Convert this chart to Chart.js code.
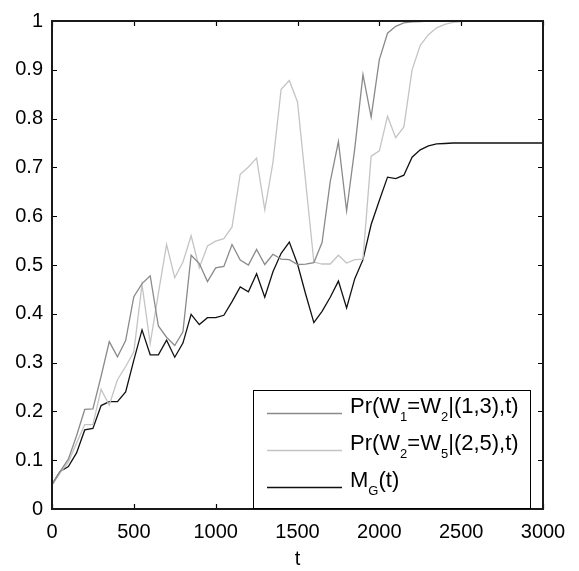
<!DOCTYPE html>
<html>
<head>
<meta charset="utf-8">
<script src="https://cdn.jsdelivr.net/npm/chart.js@4/dist/chart.umd.min.js"></script>
<style>
  html, body { margin: 0; padding: 0; background: #fff; }
  #wrap { width: 579px; height: 571px; }
</style>
</head>
<body>
<div id="wrap"><canvas id="chart" width="579" height="571"></canvas></div>
<script>
"use strict";

// Час t (крок 50)
const tValues = [
    0, 50, 100, 150, 200, 250, 300, 350, 400, 450,
    500, 550, 600, 650, 700, 750, 800, 850, 900, 950,
    1000, 1050, 1100, 1150, 1200, 1250, 1300, 1350, 1400, 1450,
    1500, 1550, 1600, 1650, 1700, 1750, 1800, 1850, 1900, 1950,
    2000, 2050, 2100, 2150, 2200, 2250, 2300, 2350, 2400, 2450,
    2500, 2550, 2600, 2650, 2700, 2750, 2800, 2850, 2900, 2950, 3000
];

// Pr(W1=W2|(1,3),t)
const pr13 = [
    0.05, 0.077, 0.102, 0.15, 0.204, 0.205, 0.272, 0.343, 0.312, 0.345,
    0.435, 0.462, 0.478, 0.375, 0.352, 0.335, 0.363, 0.52, 0.503, 0.466,
    0.494, 0.497, 0.542, 0.51, 0.5, 0.532, 0.501, 0.522, 0.512, 0.511,
    0.501, 0.502, 0.505, 0.546, 0.671, 0.753, 0.611, 0.739, 0.89, 0.803,
    0.921, 0.975, 0.989, 0.996, 0.998, 0.999, 1, 1, 1, 1,
    1, 1, 1, 1, 1, 1, 1, 1, 1, 1, 1
];

// Pr(W2=W5|(2,5),t)
const pr25 = [
    0.05, 0.074, 0.096, 0.135, 0.173, 0.173, 0.245, 0.213, 0.265, 0.292,
    0.322, 0.46, 0.339, 0.442, 0.542, 0.474, 0.506, 0.56, 0.494, 0.539,
    0.549, 0.554, 0.578, 0.686, 0.701, 0.719, 0.613, 0.71, 0.86, 0.878,
    0.834, 0.67, 0.506, 0.502, 0.502, 0.52, 0.504, 0.511, 0.512, 0.723,
    0.734, 0.805, 0.761, 0.783, 0.9, 0.95, 0.972, 0.986, 0.993, 0.997,
    0.999, 1, 1, 1, 1, 1, 1, 1, 1, 1, 1
];

// M_G(t)
const mg = [
    0.05, 0.077, 0.087, 0.115, 0.162, 0.165, 0.212, 0.22, 0.22, 0.24,
    0.305, 0.367, 0.316, 0.316, 0.346, 0.311, 0.34, 0.399, 0.378, 0.392,
    0.392, 0.397, 0.425, 0.455, 0.445, 0.482, 0.434, 0.486, 0.524, 0.547,
    0.502, 0.44, 0.382, 0.405, 0.434, 0.467, 0.412, 0.472, 0.511, 0.583,
    0.632, 0.68, 0.677, 0.684, 0.721, 0.736, 0.744, 0.748, 0.749, 0.75,
    0.75, 0.75, 0.75, 0.75, 0.75, 0.75, 0.75, 0.75, 0.75, 0.75, 0.75
];

// Підписи легенди: частини тексту, sub = нижній індекс
const legendLabels = [
    [{ t: 'Pr(W' }, { t: '1', sub: true }, { t: '=W' }, { t: '2', sub: true }, { t: '|(1,3),t)' }],
    [{ t: 'Pr(W' }, { t: '2', sub: true }, { t: '=W' }, { t: '5', sub: true }, { t: '|(2,5),t)' }],
    [{ t: 'M' }, { t: 'G', sub: true }, { t: '(t)' }]
];
const xTitle = 't';

const FONT = '"Liberation Sans", Arial, Helvetica, sans-serif';
const colors = ['#8a8a8a', '#c4c4c4', '#111111'];

function toPoints(values) {
    return tValues.map((t, i) => ({ x: t, y: values[i] }));
}

// Рамка та внутрішні засічки як у MATLAB
const boxPlugin = {
    id: 'matlabBox',
    afterDraw(chart) {
        const { ctx, chartArea: a, scales } = chart;
        const len = 5;
        ctx.save();
        ctx.strokeStyle = '#000';
        ctx.lineWidth = 1.2;
        scales.x.ticks.forEach(tk => {
            const px = Math.round(scales.x.getPixelForValue(tk.value)) + 0.5;
            ctx.beginPath();
            ctx.moveTo(px, a.bottom); ctx.lineTo(px, a.bottom - len);
            ctx.moveTo(px, a.top); ctx.lineTo(px, a.top + len);
            ctx.stroke();
        });
        scales.y.ticks.forEach(tk => {
            const py = Math.round(scales.y.getPixelForValue(tk.value)) + 0.5;
            ctx.beginPath();
            ctx.moveTo(a.left, py); ctx.lineTo(a.left + len, py);
            ctx.moveTo(a.right, py); ctx.lineTo(a.right - len, py);
            ctx.stroke();
        });
        ctx.strokeStyle = '#1a1a1a';
        ctx.lineWidth = 2;
        ctx.strokeRect(a.left, a.top, a.right - a.left, a.bottom - a.top);
        ctx.restore();
    }
};

// Власна легенда з нижніми індексами
const legendPlugin = {
    id: 'subLegend',
    afterDraw(chart) {
        const { ctx, chartArea: a } = chart;
        const bx = a.left + 201, by = a.top + 369, bw = 277, bh = 118;
        ctx.save();
        ctx.fillStyle = '#fff';
        ctx.fillRect(bx, by, bw, bh);
        ctx.strokeStyle = '#000';
        ctx.lineWidth = 1;
        ctx.strokeRect(bx + 0.5, by + 0.5, bw, bh);

        legendLabels.forEach((parts, i) => {
            const y = by + 23 + i * 37;
            ctx.strokeStyle = colors[i];
            ctx.lineWidth = 1.3;
            ctx.beginPath();
            ctx.moveTo(bx + 14, y + 0.5);
            ctx.lineTo(bx + 89, y + 0.5);
            ctx.stroke();

            let x = bx + 97;
            ctx.fillStyle = '#000';
            ctx.textBaseline = 'alphabetic';
            parts.forEach(p => {
                ctx.font = (p.sub ? '13px ' : '22px ') + FONT;
                const yy = p.sub ? y + 8 : y;
                ctx.fillText(p.t, x, yy);
                x += ctx.measureText(p.t).width;
            });
        });
        ctx.restore();
    }
};

function lineSet(label, values, color) {
    return {
        label: label,
        data: toPoints(values),
        borderColor: color,
        backgroundColor: color,
        borderWidth: 1.3,
        pointRadius: 0,
        tension: 0,
        fill: false
    };
}

new Chart(document.getElementById('chart'), {
    type: 'line',
    data: {
        datasets: [
            lineSet('Pr(W1=W2|(1,3),t)', pr13, colors[0]),
            lineSet('Pr(W2=W5|(2,5),t)', pr25, colors[1]),
            lineSet('M_G(t)', mg, colors[2])
        ]
    },
    options: {
        responsive: false,
        animation: false,
        layout: { padding: { top: 10, right: 36, bottom: 0, left: 0 } },
        plugins: {
            legend: { display: false },
            tooltip: { enabled: false }
        },
        scales: {
            x: {
                type: 'linear',
                min: 0,
                max: 3000,
                grid: { display: false, drawTicks: false },
                border: { display: false },
                ticks: {
                    stepSize: 500,
                    padding: 11,
                    maxRotation: 0,
                    color: '#000',
                    font: { family: FONT, size: 20 },
                    callback: v => String(v)
                },
                title: {
                    display: true,
                    text: xTitle,
                    color: '#000',
                    padding: { top: 0, bottom: 0 },
                    font: { family: FONT, size: 20 }
                },
                afterFit(scale) { scale.height = 62; }
            },
            y: {
                min: 0,
                max: 1,
                grid: { display: false, drawTicks: false },
                border: { display: false },
                ticks: {
                    stepSize: 0.1,
                    padding: 9,
                    color: '#000',
                    font: { family: FONT, size: 20 },
                    callback: v => String(Number(v.toFixed(1)))
                },
                afterFit(scale) { scale.width = 52; }
            }
        }
    },
    plugins: [boxPlugin, legendPlugin]
});
</script>
</body>
</html>
